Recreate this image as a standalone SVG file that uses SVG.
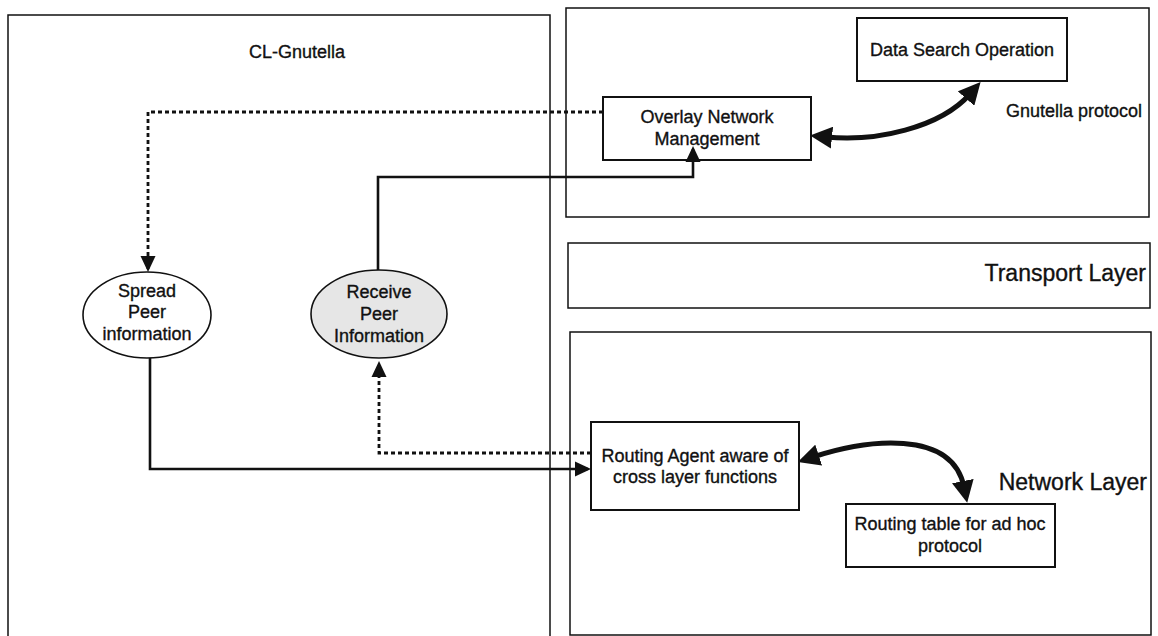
<svg xmlns="http://www.w3.org/2000/svg" width="1158" height="636" viewBox="0 0 1158 636">
  <style>
    .frame { fill: none; stroke: #111; stroke-width: 1.5; }
    .box { fill: #fff; stroke: #111; stroke-width: 2; }
    .oval { stroke: #111; stroke-width: 1.6; }
    .label { font-family: "Liberation Sans", Arial, sans-serif; font-size: 18px; fill: #111; stroke: #111; stroke-width: 0.35; }
    .layer { font-family: "Liberation Sans", Arial, sans-serif; font-size: 23px; fill: #111; stroke: #111; stroke-width: 0.35; }
    .solid { fill: none; stroke: #111; stroke-width: 2.6; }
    .dashed { fill: none; stroke: #111; stroke-width: 2.8; stroke-dasharray: 4 3; }
    .thick { fill: none; stroke: #111; stroke-width: 5; }
  </style>
  <defs>
    <marker id="head" viewBox="0 0 16 16" markerWidth="16" markerHeight="16" refX="13" refY="8" orient="auto" markerUnits="userSpaceOnUse">
      <path d="M0,0.5 L16,8 L0,15.5 z" fill="#111"/>
    </marker>
    <marker id="bighead" viewBox="0 0 22 22" markerWidth="22" markerHeight="22" refX="6" refY="11" orient="auto-start-reverse" markerUnits="userSpaceOnUse">
      <path d="M0,0 L22,11 L0,22 z" fill="#111"/>
    </marker>
  </defs>

  <rect width="1158" height="636" fill="#fff"/>

  <!-- layer frames -->
  <g id="cl-gnutella">
    <rect class="frame" x="8" y="15" width="542" height="630"/>
    <text class="label" x="297" y="58" text-anchor="middle">CL-Gnutella</text>
  </g>
  <g id="gnutella-layer">
    <rect class="frame" x="566" y="8" width="583" height="209"/>
    <text class="label" x="1006" y="117">Gnutella protocol</text>
  </g>
  <g id="transport-layer">
    <rect class="frame" x="568" y="243" width="582" height="65"/>
    <text class="layer" x="1146" y="281" text-anchor="end">Transport Layer</text>
  </g>
  <g id="network-layer">
    <rect class="frame" x="570" y="332" width="581" height="303"/>
    <text class="layer" x="1147" y="490" text-anchor="end">Network Layer</text>
  </g>

  <!-- connectors -->
  <g id="connectors">
    <path class="dashed" d="M603,112 H148 V269" marker-end="url(#head)"/>
    <path class="solid" d="M378,270 V177 H693 V149" marker-end="url(#head)"/>
    <path class="solid" d="M150,358 V469 H588" marker-end="url(#head)"/>
    <path class="dashed" d="M591,453 H379 V364" marker-end="url(#head)"/>
    <path class="thick" d="M826,137 C875,142 940,128 970,94" marker-start="url(#bighead)" marker-end="url(#bighead)"/>
    <path class="thick" d="M813,457 C865,440 952,428 964,487" marker-start="url(#bighead)" marker-end="url(#bighead)"/>
  </g>

  <!-- process nodes -->
  <g id="data-search">
    <rect class="box" x="857" y="18" width="210" height="63"/>
    <text class="label" x="962" y="56" text-anchor="middle">Data Search Operation</text>
  </g>
  <g id="overlay-management">
    <rect class="box" x="603" y="97" width="208" height="63" style="fill:none"/>
    <text class="label" x="707" y="123" text-anchor="middle">Overlay Network</text>
    <text class="label" x="707" y="145" text-anchor="middle">Management</text>
  </g>
  <g id="spread-peer">
    <ellipse class="oval" cx="147" cy="315" rx="64" ry="43" fill="#fff"/>
    <text class="label" x="147" y="297" text-anchor="middle">Spread</text>
    <text class="label" x="147" y="318" text-anchor="middle">Peer</text>
    <text class="label" x="147" y="340" text-anchor="middle">information</text>
  </g>
  <g id="receive-peer">
    <ellipse class="oval" cx="379" cy="314" rx="68" ry="44" fill="#e6e6e6"/>
    <text class="label" x="379" y="298" text-anchor="middle">Receive</text>
    <text class="label" x="379" y="320" text-anchor="middle">Peer</text>
    <text class="label" x="379" y="342" text-anchor="middle">Information</text>
  </g>
  <g id="routing-agent">
    <rect class="box" x="591" y="422" width="208" height="88"/>
    <text class="label" x="695" y="462" text-anchor="middle">Routing Agent aware of</text>
    <text class="label" x="695" y="483" text-anchor="middle">cross layer functions</text>
  </g>
  <g id="routing-table">
    <rect class="box" x="846" y="504" width="209" height="63"/>
    <text class="label" x="950" y="530" text-anchor="middle">Routing table for ad hoc</text>
    <text class="label" x="950" y="552" text-anchor="middle">protocol</text>
  </g>
</svg>
